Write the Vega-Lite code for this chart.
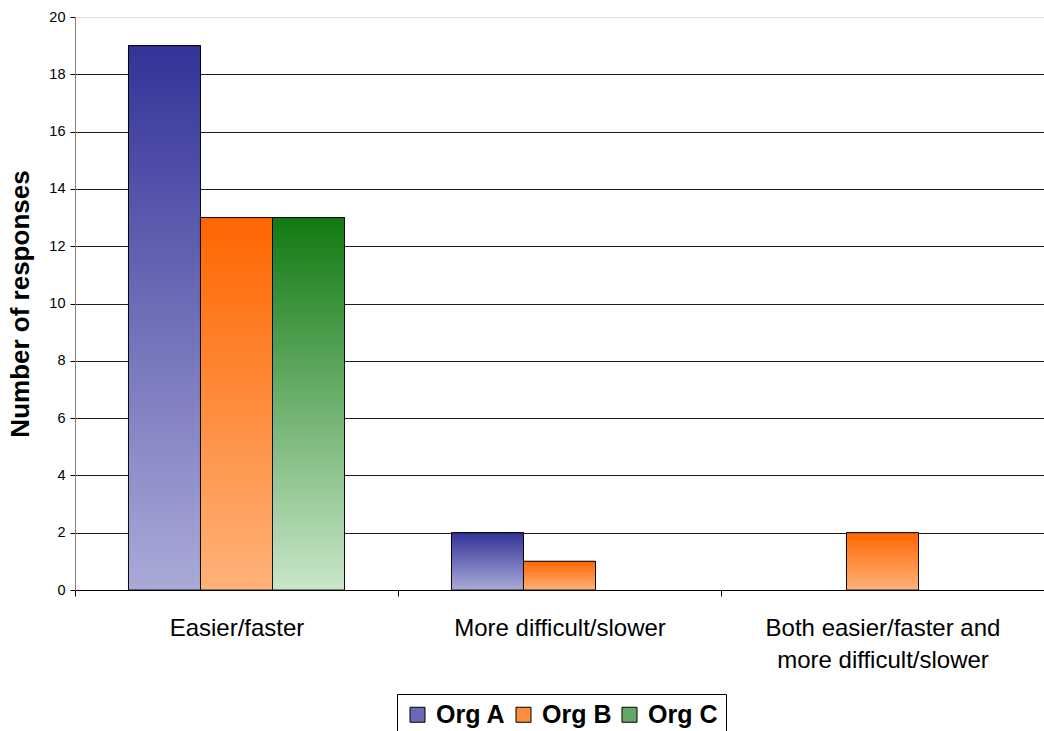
{
  "$schema": "https://vega.github.io/schema/vega-lite/v6.json",
  "width": 969,
  "height": 573,
  "autosize": "none",
  "padding": {"left": 75, "top": 17, "right": 0, "bottom": 141},
  "background": "white",
  "config": {
    "font": "Liberation Sans",
    "view": {"stroke": null}
  },
  "data": {
    "values": [
      {"answer": "Easier/faster", "org": "Org A", "responses": 19},
      {"answer": "Easier/faster", "org": "Org B", "responses": 13},
      {"answer": "Easier/faster", "org": "Org C", "responses": 13},
      {"answer": "More difficult/slower", "org": "Org A", "responses": 2},
      {"answer": "More difficult/slower", "org": "Org B", "responses": 1},
      {"answer": "More difficult/slower", "org": "Org C", "responses": 0},
      {"answer": "Both easier/faster and more difficult/slower", "org": "Org A", "responses": 0},
      {"answer": "Both easier/faster and more difficult/slower", "org": "Org B", "responses": 2},
      {"answer": "Both easier/faster and more difficult/slower", "org": "Org C", "responses": 0}
    ]
  },
  "transform": [{"filter": "datum.responses > 0"}],
  "encoding": {
    "x": {
      "field": "answer",
      "type": "nominal",
      "sort": ["Easier/faster", "More difficult/slower", "Both easier/faster and more difficult/slower"],
      "scale": {"paddingInner": 0, "paddingOuter": 0},
      "axis": {
        "title": null,
        "labelAngle": 0,
        "labelFontSize": 24,
        "labelColor": "#000000",
        "labelPadding": 20,
        "labelLimit": 400,
        "labelLineHeight": 32,
        "labelExpr": "datum.label == 'Both easier/faster and more difficult/slower' ? ['Both easier/faster and', 'more difficult/slower'] : datum.label",
        "tickBand": "extent",
        "ticks": true,
        "tickSize": 6,
        "tickColor": "#000000",
        "domainColor": "#000000",
        "grid": false
      }
    },
    "xOffset": {
      "field": "org",
      "type": "nominal",
      "sort": ["Org A", "Org B", "Org C"],
      "scale": {"domain": ["Org A", "Org B", "Org C"], "paddingInner": 0, "paddingOuter": 0.743}
    },
    "y": {
      "field": "responses",
      "type": "quantitative",
      "scale": {"domain": [0, 20], "nice": false},
      "axis": {
        "values": [0, 2, 4, 6, 8, 10, 12, 14, 16, 18, 20],
        "title": "Number of responses",
        "titleFontSize": 26,
        "titleFontWeight": "bold",
        "titleColor": "#000000",
        "titlePadding": 15,
        "labelFontSize": 14.5,
        "labelColor": "#000000",
        "labelPadding": 5,
        "tickSize": 5,
        "tickColor": "#000000",
        "domainColor": "#808080",
        "grid": true,
        "gridColor": {"condition": {"test": "datum.value == 20", "value": "#dddddd"}, "value": "#1e1e1e"},
        "gridWidth": 1
      }
    }
  },
  "layer": [
    {
      "mark": {"type": "bar", "stroke": "#000000", "strokeWidth": 1},
      "encoding": {
        "fill": {
          "field": "org",
          "type": "nominal",
          "scale": {"domain": ["Org A", "Org B", "Org C"], "range": ["#6a6ab8", "#ff8c40", "#64a864"]},
          "legend": {
            "title": null,
            "orient": "none",
            "direction": "horizontal",
            "legendX": 322,
            "legendY": 677,
            "strokeColor": "#000000",
            "padding": 8,
            "symbolType": "square",
            "symbolSize": 225,
            "symbolStrokeColor": "#000000",
            "symbolStrokeWidth": 1,
            "symbolOpacity": 1,
            "labelFontSize": 25,
            "labelFontWeight": "bold",
            "labelColor": "#000000",
            "labelOffset": 6,
            "columnPadding": 5,
            "labelLimit": 200
          }
        }
      }
    },
    {
      "mark": {"type": "bar", "stroke": "#000000", "strokeWidth": 1, "strokeOpacity": 0.85},
      "encoding": {
        "fill": {
          "condition": [
            {"test": "datum.org == 'Org A'", "value": {"gradient": "linear", "x1": 0, "y1": 0, "x2": 0, "y2": 1,
              "stops": [{"offset": 0, "color": "#333399"}, {"offset": 1, "color": "#aaaad8"}]}},
            {"test": "datum.org == 'Org B'", "value": {"gradient": "linear", "x1": 0, "y1": 0, "x2": 0, "y2": 1,
              "stops": [{"offset": 0, "color": "#ff6600"}, {"offset": 1, "color": "#ffb27a"}]}}
          ],
          "value": {"gradient": "linear", "x1": 0, "y1": 0, "x2": 0, "y2": 1,
            "stops": [{"offset": 0, "color": "#117a11"}, {"offset": 1, "color": "#c9e6c9"}]}
        }
      }
    }
  ]
}
